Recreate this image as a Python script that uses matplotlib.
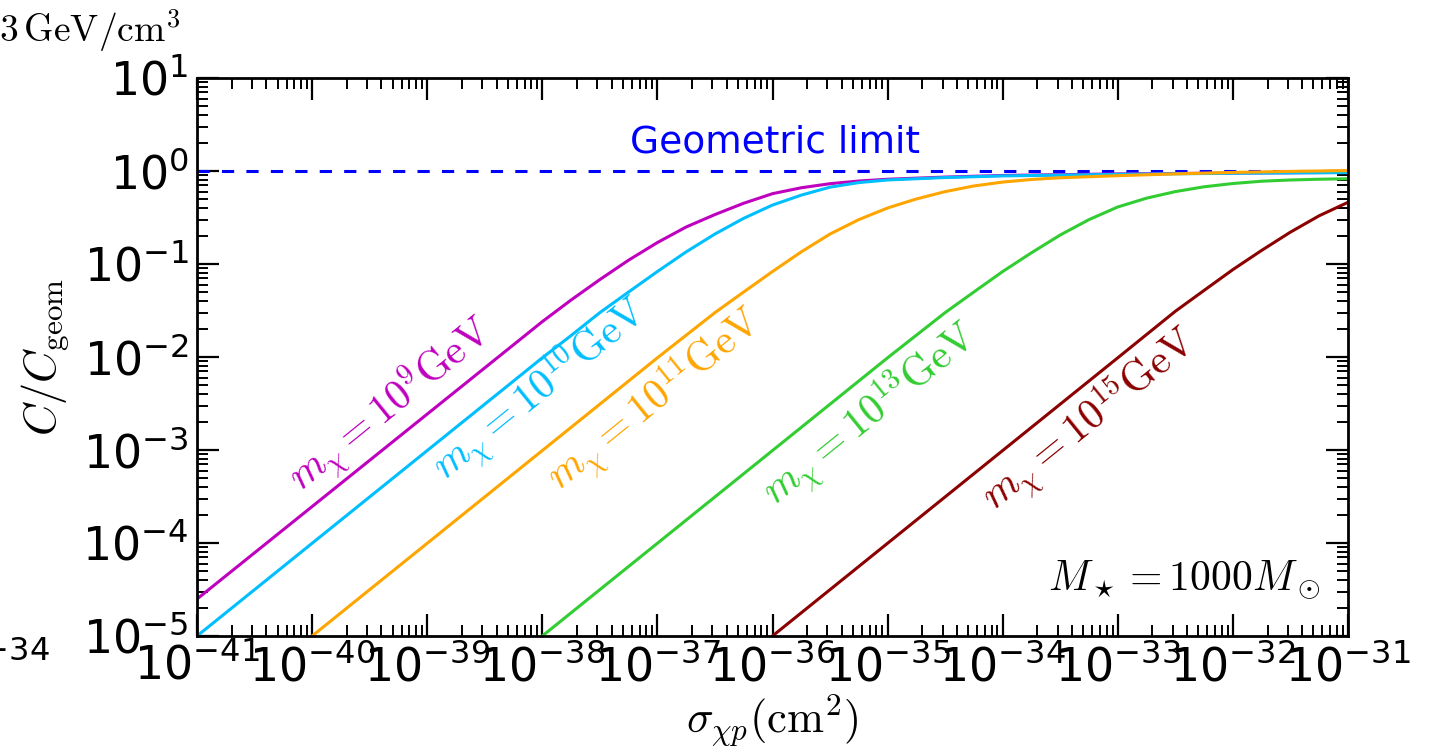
import numpy as np
import matplotlib.pyplot as plt
from matplotlib.ticker import LogLocator, NullFormatter

# capture rate over geometric rate vs. DM-proton cross section, M_star = 1000 M_sun
logsig_m9 = [-41, -38, -37.75, -37.5, -37.25, -37, -36.75, -36.5, -36.25, -36,
             -35.75, -35.5, -35.25, -35, -34.5, -34, -33, -32, -31]
ratio_m9 = [2.5e-5, 0.024, 0.041, 0.068, 0.11, 0.17, 0.25, 0.34, 0.45, 0.57,
            0.66, 0.73, 0.78, 0.815, 0.86, 0.895, 0.93, 0.95, 0.965]

logsig_m10 = [-41, -38, -37.75, -37.5, -37.25, -37, -36.75, -36.5, -36.25, -36,
              -35.75, -35.5, -35.25, -35, -34.5, -34, -33, -32, -31]
ratio_m10 = [1e-5, 0.0098, 0.017, 0.03, 0.05, 0.083, 0.135, 0.21, 0.31, 0.43,
             0.55, 0.67, 0.75, 0.80, 0.85, 0.885, 0.92, 0.945, 0.96]

logsig_m11 = [-40, -37, -36.5, -36.25, -36, -35.75, -35.5, -35.25, -35, -34.75,
              -34.5, -34.25, -34, -33.75, -33.5, -33, -32.5, -32, -31.5, -31]
ratio_m11 = [1e-5, 0.0098, 0.03, 0.05, 0.083, 0.135, 0.21, 0.30, 0.40, 0.50,
             0.60, 0.69, 0.76, 0.81, 0.845, 0.89, 0.93, 0.965, 0.99, 1.01]

logsig_m13 = [-38, -35, -34.5, -34.25, -34, -33.75, -33.5, -33.25, -33, -32.75,
              -32.5, -32.25, -32, -31.75, -31.5, -31.25, -31]
ratio_m13 = [1e-5, 0.0098, 0.03, 0.05, 0.083, 0.132, 0.205, 0.30, 0.41, 0.51,
             0.60, 0.676, 0.733, 0.776, 0.80, 0.815, 0.825]

logsig_m15 = [-36, -33, -32.5, -32.25, -32, -31.75, -31.5, -31.25, -31]
ratio_m15 = [1e-5, 0.0098, 0.031, 0.052, 0.087, 0.14, 0.22, 0.33, 0.46]

labels = [r'$m_\chi = 10^{9}\mathrm{GeV}$', r'$m_\chi = 10^{10}\mathrm{GeV}$',
          r'$m_\chi = 10^{11}\mathrm{GeV}$', r'$m_\chi = 10^{13}\mathrm{GeV}$',
          r'$m_\chi = 10^{15}\mathrm{GeV}$']
colors = ['m', 'deepskyblue', 'orange', 'limegreen', 'darkred']
label_logx = [-39.32, -38.02, -37.02, -35.15, -33.24]
label_logy = [-2.52, -2.35, -2.46, -2.62, -2.68]

curves = [(logsig_m9, ratio_m9), (logsig_m10, ratio_m10), (logsig_m11, ratio_m11),
          (logsig_m13, ratio_m13), (logsig_m15, ratio_m15)]

plt.rcParams['font.size'] = 33
plt.rcParams['axes.linewidth'] = 2.0

fig = plt.figure(figsize=(14.29, 7.49), dpi=100)
ax = fig.add_axes([0.1379, 0.1509, 0.8054, 0.745])

ax.axhline(1.0, color='b', ls='--', lw=2.2, dashes=(4, 4))
for (ls, r), c in zip(curves, colors):
    ax.plot(10.0 ** np.array(ls), r, color=c, lw=2.2)

for lx, ly, t, c in zip(label_logx, label_logy, labels, colors):
    ax.text(10.0 ** lx, 10.0 ** ly, t, color=c, fontsize=30, rotation=39,
            ha='center', va='center', rotation_mode='anchor', math_fontfamily='cm')

ax.text(10**-35.98, 10**0.31, 'Geometric limit', color='b', fontsize=27,
        ha='center', va='center')
ax.text(0.976, 0.10, r'$M_\star = 1000 M_\odot$', transform=ax.transAxes,
        fontsize=30, ha='right', va='center', math_fontfamily='cm')

ax.set_xscale('log')
ax.set_yscale('log')
ax.set_xlim(1e-41, 1e-31)
ax.set_ylim(1e-5, 1e1)
ax.set_xticks([10.0**k for k in range(-41, -30)])
ax.set_yticks([10.0**k for k in range(-5, 2)])
for axis in (ax.xaxis, ax.yaxis):
    axis.set_minor_locator(LogLocator(base=10, subs=np.arange(2, 10), numticks=100))
    axis.set_minor_formatter(NullFormatter())
ax.tick_params(which='both', direction='in', top=True, right=True)
ax.tick_params(which='major', length=16, width=1.6, pad=6)
ax.tick_params(which='minor', length=8, width=1.4)

ax.set_xlabel(r'$\sigma_{\chi p}(\mathrm{cm}^2)$', fontsize=32, math_fontfamily='cm',
              labelpad=2)
ax.set_ylabel(r'$C/C_\mathrm{geom}$', fontsize=32, math_fontfamily='cm', labelpad=8)

# neighbouring panel text that spills into this frame
fig.text(180 / 1429, 1 - 32 / 749, r'$\rho_\chi = 0.3\,\mathrm{GeV/cm^3}$',
         fontsize=27, ha='right', va='center', math_fontfamily='cm')
fig.text(50 / 1429, 1 - 665 / 749, r'$10^{-34}$', fontsize=33, ha='right', va='center')

fig.savefig('out.png', dpi=100)
